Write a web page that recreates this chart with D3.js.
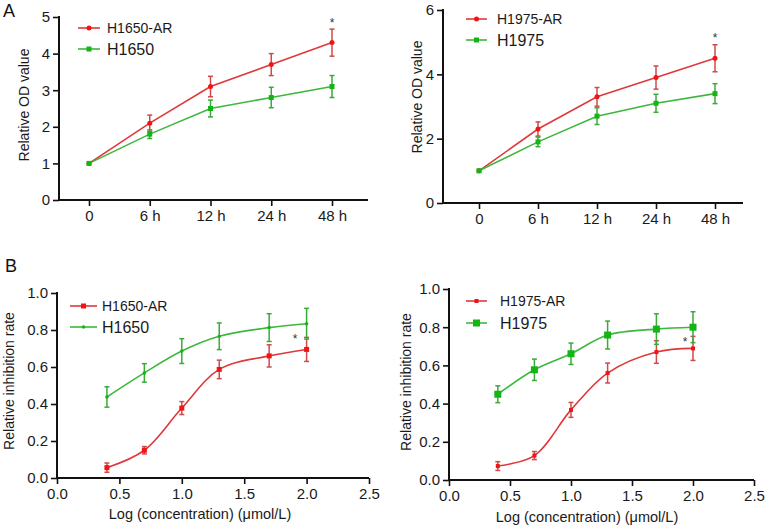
<!DOCTYPE html>
<html><head><meta charset="utf-8">
<script src="https://cdn.jsdelivr.net/npm/d3@7"></script>
<style>
html,body{margin:0;padding:0;background:#fff;}
svg{display:block;font-family:"Liberation Sans",Arial,sans-serif;}
</style></head>
<body>
<svg id="c" width="766" height="528"></svg>
<script>
// ---- Data ----
const timeLabels = ["0", "6 h", "12 h", "24 h", "48 h"];
const h1650arOD = [1, 2.1, 3.1, 3.7, 4.3];
const h1650arODErr = [0, 0.22, 0.28, 0.3, 0.37];
const h1650OD = [1, 1.8, 2.5, 2.8, 3.1];
const h1650ODErr = [0, 0.12, 0.23, 0.28, 0.3];
const h1975arOD = [1, 2.3, 3.3, 3.9, 4.5];
const h1975arODErr = [0, 0.22, 0.29, 0.36, 0.42];
const h1975OD = [1, 1.9, 2.7, 3.1, 3.4];
const h1975ODErr = [0, 0.15, 0.26, 0.28, 0.31];
const odTicksLeft = [0, 1, 2, 3, 4, 5];
const odTicksRight = [0, 2, 4, 6];

const logConc = [0.4, 0.7, 1.0, 1.3, 1.7, 2.0];
const h1650arInh = [0.056, 0.15, 0.378, 0.587, 0.66, 0.695];
const h1650arInhErr = [0.025, 0.02, 0.035, 0.05, 0.06, 0.065];
const h1650Inh = [0.438, 0.568, 0.686, 0.766, 0.813, 0.834];
const h1650InhErr = [0.055, 0.05, 0.067, 0.072, 0.075, 0.083];
const h1975arInh = [0.073, 0.128, 0.367, 0.56, 0.67, 0.689];
const h1975arInhErr = [0.023, 0.021, 0.039, 0.052, 0.059, 0.063];
const h1975Inh = [0.449, 0.577, 0.661, 0.759, 0.79, 0.8];
const h1975InhErr = [0.044, 0.056, 0.056, 0.073, 0.08, 0.081];
const inhTicksY = [0, 0.2, 0.4, 0.6, 0.8, 1.0];
const concTicksX = [0, 0.5, 1.0, 1.5, 2.0, 2.5];

// ---- Styles ----
const RED_LINE = "#e0383a", RED_MK = "#f01414", RED_ERR = "#cf4a4a";
const GRN_LINE = "#3cb83c", GRN_MK = "#14b414", GRN_ERR = "#3aaa3a";

const svg = d3.select("#c");

function drawPanel(cfg) {
  const g = svg.append("g");
  const y = d3.scaleLinear().domain(cfg.yDomain).range(cfg.yRange);
  let x;
  if (cfg.categorical) {
    x = d3.scalePoint().domain(cfg.xCats).range(cfg.xPoints);
  } else {
    x = d3.scaleLinear().domain(cfg.xDomain).range(cfg.xRange);
  }
  const x0 = cfg.axisX[0], x1 = cfg.axisX[1], yb = cfg.yRange[0];

  // y axis
  const ya = g.append("g").attr("transform", `translate(${x0},0)`)
    .call(d3.axisLeft(y).tickValues(cfg.yTicks).tickSize(6).tickPadding(3)
      .tickFormat(cfg.yFmt));
  ya.select(".domain").remove();
  ya.selectAll("line").attr("stroke", "#111").attr("stroke-width", 1.6);
  ya.selectAll("text").style("font-size", cfg.tickFont + "px").attr("fill", "#1a1a1a")
    .style("font-family", "Liberation Sans, Arial, sans-serif");
  g.append("line").attr("x1", x0).attr("x2", x0).attr("y1", cfg.yRange[1] - 1).attr("y2", yb + 1)
    .attr("stroke", "#111").attr("stroke-width", 2);

  // x axis
  const xaxis = cfg.categorical ? d3.axisBottom(x) : d3.axisBottom(x).tickValues(cfg.xTicks).tickFormat(d3.format(".1f"));
  const xa = g.append("g").attr("transform", `translate(0,${yb})`)
    .call(xaxis.tickSize(6).tickPadding(4));
  xa.select(".domain").remove();
  xa.selectAll("line").attr("stroke", "#111").attr("stroke-width", 1.6);
  xa.selectAll("text").style("font-size", cfg.tickFont + "px").attr("fill", "#1a1a1a")
    .style("font-family", "Liberation Sans, Arial, sans-serif");
  g.append("line").attr("x1", x0 - 1).attr("x2", x1).attr("y1", yb).attr("y2", yb)
    .attr("stroke", "#111").attr("stroke-width", 2);

  // axis titles
  g.append("text").attr("transform", `translate(${cfg.yTitlePos[0]},${cfg.yTitlePos[1]}) rotate(-90)`)
    .attr("text-anchor", "middle").attr("dominant-baseline", "central")
    .style("font-size", "14px").attr("fill", "#1a1a1a").text(cfg.yTitle);
  if (cfg.xTitle) {
    g.append("text").attr("x", cfg.xTitlePos[0]).attr("y", cfg.xTitlePos[1])
      .attr("text-anchor", "middle").attr("dominant-baseline", "central")
      .style("font-size", "14.5px").attr("fill", "#1a1a1a").text(cfg.xTitle);
  }

  const xs = cfg.categorical ? cfg.xCats : cfg.xVals;
  const px = (i) => x(xs[i]);

  // series
  cfg.series.forEach(s => {
    const pts = s.values.map((v, i) => [px(i), y(v)]);
    const line = d3.line().curve(cfg.categorical ? d3.curveLinear : d3.curveCatmullRom.alpha(0.5));
    g.append("path").attr("d", line(pts)).attr("fill", "none")
      .attr("stroke", s.line).attr("stroke-width", 1.6);
    // error bars
    s.values.forEach((v, i) => {
      const e = s.err[i];
      if (!e) return;
      const cx = px(i), yt = y(v + e), ybm = y(v - e);
      g.append("line").attr("x1", cx).attr("x2", cx).attr("y1", yt).attr("y2", ybm)
        .attr("stroke", s.errc).attr("stroke-width", 1.5);
      [yt, ybm].forEach(yy => g.append("line").attr("x1", cx - 2.5).attr("x2", cx + 2.5)
        .attr("y1", yy).attr("y2", yy).attr("stroke", s.errc).attr("stroke-width", 1.5));
    });
    s.values.forEach((v, i) => drawMarker(g, s.marker, s.size, px(i), y(v), s.mk));
  });

  // legend
  cfg.series.forEach((s, k) => {
    const ly = cfg.legend.y[k];
    g.append("line").attr("x1", cfg.legend.x0).attr("x2", cfg.legend.x1).attr("y1", ly).attr("y2", ly)
      .attr("stroke", s.line).attr("stroke-width", 1.6);
    drawMarker(g, s.marker, s.size, (cfg.legend.x0 + cfg.legend.x1) / 2, ly, s.mk);
    g.append("text").attr("x", cfg.legend.tx).attr("y", ly).attr("dominant-baseline", "central")
      .style("font-size", s.legFont + "px").attr("fill", "#1a1a1a").text(s.name);
  });

  // significance star
  g.append("text").attr("x", cfg.star[0]).attr("y", cfg.star[1]).attr("text-anchor", "middle")
    .attr("dominant-baseline", "central").style("font-size", "12px").attr("fill", "#333").text("*");

  if (cfg.label) {
    g.append("text").attr("x", cfg.label[1]).attr("y", cfg.label[2])
      .style("font-size", "18px").attr("fill", "#111").text(cfg.label[0]);
  }
}

function drawMarker(g, type, size, cx, cy, color) {
  if (type === "circle") {
    g.append("circle").attr("cx", cx).attr("cy", cy).attr("r", size / 2).attr("fill", color);
  } else {
    g.append("rect").attr("x", cx - size / 2).attr("y", cy - size / 2)
      .attr("width", size).attr("height", size).attr("fill", color);
  }
}

// Panel A left
drawPanel({
  categorical: true, xCats: timeLabels, xPoints: [89, 332], axisX: [59, 368],
  yDomain: [0, 5], yRange: [200, 17], yTicks: odTicksLeft, yFmt: d3.format("d"), tickFont: 15,
  yTitle: "Relative OD value", yTitlePos: [24, 105],
  series: [
    {name: "H1650-AR", values: h1650arOD, err: h1650arODErr, line: RED_LINE, mk: RED_MK, errc: RED_ERR, marker: "circle", size: 5, legFont: 14},
    {name: "H1650", values: h1650OD, err: h1650ODErr, line: GRN_LINE, mk: GRN_MK, errc: GRN_ERR, marker: "square", size: 5, legFont: 16}
  ],
  legend: {x0: 78, x1: 100, tx: 107, y: [28, 49]},
  star: [332, 23], label: ["A", 3, 17]
});

// Panel A right
drawPanel({
  categorical: true, xCats: timeLabels, xPoints: [479, 715], axisX: [443, 743],
  yDomain: [0, 6], yRange: [203, 10], yTicks: odTicksRight, yFmt: d3.format("d"), tickFont: 15,
  yTitle: "Relative OD value", yTitlePos: [417, 97],
  series: [
    {name: "H1975-AR", values: h1975arOD, err: h1975arODErr, line: RED_LINE, mk: RED_MK, errc: RED_ERR, marker: "circle", size: 5, legFont: 14},
    {name: "H1975", values: h1975OD, err: h1975ODErr, line: GRN_LINE, mk: GRN_MK, errc: GRN_ERR, marker: "square", size: 5, legFont: 16}
  ],
  legend: {x0: 466, x1: 487, tx: 497, y: [19, 40]},
  star: [715, 38]
});

// Panel B left
drawPanel({
  categorical: false, xVals: logConc, xDomain: [0, 2.5], xRange: [57, 369], xTicks: concTicksX, axisX: [57, 369],
  yDomain: [0, 1], yRange: [478, 293], yTicks: inhTicksY, yFmt: d3.format(".1f"), tickFont: 15,
  yTitle: "Relative inhibition rate", yTitlePos: [9, 381],
  xTitle: "Log (concentration) (μmol/L)", xTitlePos: [200, 514],
  series: [
    {name: "H1650-AR", values: h1650arInh, err: h1650arInhErr, line: RED_LINE, mk: RED_MK, errc: RED_ERR, marker: "square", size: 5, legFont: 14},
    {name: "H1650", values: h1650Inh, err: h1650InhErr, line: GRN_LINE, mk: GRN_MK, errc: GRN_ERR, marker: "circle", size: 3.5, legFont: 16}
  ],
  legend: {x0: 70, x1: 97, tx: 102, y: [306, 327]},
  star: [295, 339], label: ["B", 5, 272]
});

// Panel B right
drawPanel({
  categorical: false, xVals: logConc, xDomain: [0, 2.5], xRange: [449, 754], xTicks: concTicksX, axisX: [449, 754],
  yDomain: [0, 1], yRange: [480, 289], yTicks: inhTicksY, yFmt: d3.format(".1f"), tickFont: 15,
  yTitle: "Relative inhibition rate", yTitlePos: [406, 382],
  xTitle: "Log (concentration) (μmol/L)", xTitlePos: [587, 517],
  series: [
    {name: "H1975-AR", values: h1975arInh, err: h1975arInhErr, line: RED_LINE, mk: RED_MK, errc: RED_ERR, marker: "square", size: 4, legFont: 14},
    {name: "H1975", values: h1975Inh, err: h1975InhErr, line: GRN_LINE, mk: GRN_MK, errc: GRN_ERR, marker: "square", size: 7, legFont: 16}
  ],
  legend: {x0: 466, x1: 487, tx: 500, y: [301, 323]},
  star: [685, 342]
});
</script>
</body></html>
